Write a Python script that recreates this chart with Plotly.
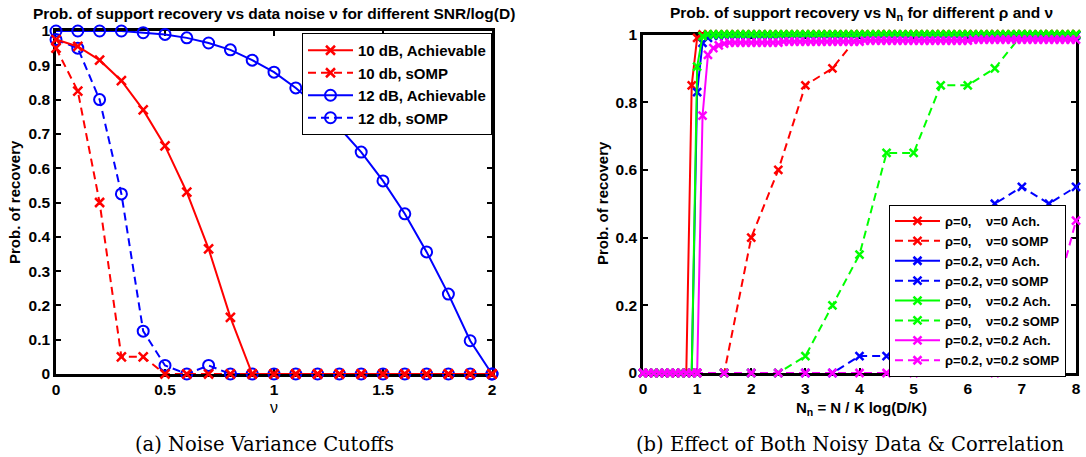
import plotly.graph_objects as go

# ---------------- Data: left panel (a) ----------------
nu = [0.0, 0.1, 0.2, 0.3, 0.4, 0.5, 0.6, 0.7, 0.8, 0.9, 1.0,
      1.1, 1.2, 1.3, 1.4, 1.5, 1.6, 1.7, 1.8, 1.9, 2.0]
ach_10db = [0.975, 0.955, 0.915, 0.855, 0.77, 0.665, 0.53, 0.365, 0.165, 0.0, 0.0,
            0.0, 0.0, 0.0, 0.0, 0.0, 0.0, 0.0, 0.0, 0.0, 0.0]
somp_10db = [0.95, 0.825, 0.50, 0.05, 0.05, 0.0, 0.0, 0.0, 0.0, 0.0, 0.0,
             0.0, 0.0, 0.0, 0.0, 0.0, 0.0, 0.0, 0.0, 0.0, 0.0]
ach_12db = [1.0, 1.0, 1.0, 1.0, 0.995, 0.99, 0.98, 0.965, 0.945, 0.915, 0.88,
            0.834, 0.78, 0.718, 0.647, 0.563, 0.467, 0.356, 0.233, 0.097, 0.0]
somp_12db = [0.975, 0.95, 0.80, 0.525, 0.125, 0.025, 0.0, 0.025, 0.0, 0.0, 0.0,
             0.0, 0.0, 0.0, 0.0, 0.0, 0.0, 0.0, 0.0, 0.0, 0.0]
left_names = ["10 dB, Achievable", "10 db, sOMP", "12 dB, Achievable", "12 db, sOMP"]
left_xticks = [0, 0.5, 1, 1.5, 2]
left_xticktext = ["0", "0.5", "1", "1.5", "2"]
left_yticks = [0, 0.1, 0.2, 0.3, 0.4, 0.5, 0.6, 0.7, 0.8, 0.9, 1.0]
left_yticktext = ["0", "0.1", "0.2", "0.3", "0.4", "0.5", "0.6", "0.7", "0.8", "0.9", "1"]

# ---------------- Data: right panel (b) ----------------
nn_ach = [0.0, 0.1, 0.2, 0.3, 0.4, 0.5, 0.6, 0.7, 0.8, 0.9,
          1.0, 1.1, 1.2, 1.3, 1.4, 1.5, 1.6, 1.7, 1.8, 1.9,
          2.0, 2.1, 2.2, 2.3, 2.4, 2.5, 2.6, 2.7, 2.8, 2.9,
          3.0, 3.1, 3.2, 3.3, 3.4, 3.5, 3.6, 3.7, 3.8, 3.9,
          4.0, 4.1, 4.2, 4.3, 4.4, 4.5, 4.6, 4.7, 4.8, 4.9,
          5.0, 5.1, 5.2, 5.3, 5.4, 5.5, 5.6, 5.7, 5.8, 5.9,
          6.0, 6.1, 6.2, 6.3, 6.4, 6.5, 6.6, 6.7, 6.8, 6.9,
          7.0, 7.1, 7.2, 7.3, 7.4, 7.5, 7.6, 7.7, 7.8, 7.9,
          8.0]
ach_r0_n0 = [0, 0, 0, 0, 0, 0, 0, 0, 0, 0.85,
             0.99, 1, 1, 1, 1, 1, 1, 1, 1, 1,
             1, 1, 1, 1, 1, 1, 1, 1, 1, 1,
             1, 1, 1, 1, 1, 1, 1, 1, 1, 1,
             1, 1, 1, 1, 1, 1, 1, 1, 1, 1,
             1, 1, 1, 1, 1, 1, 1, 1, 1, 1,
             1, 1, 1, 1, 1, 1, 1, 1, 1, 1,
             1, 1, 1, 1, 1, 1, 1, 1, 1, 1,
             1]
ach_r2_n0 = [0, 0, 0, 0, 0, 0, 0, 0, 0, 0,
             0.83, 0.975, 0.99, 0.997, 0.997, 0.997, 0.997, 0.997, 0.997, 0.997,
             0.997, 0.997, 0.997, 0.997, 0.997, 0.997, 0.997, 0.997, 0.997, 0.997,
             0.997, 0.997, 0.997, 0.997, 0.997, 0.997, 0.997, 0.997, 0.997, 0.997,
             0.997, 0.997, 0.997, 0.997, 0.997, 0.997, 0.997, 0.997, 0.997, 0.997,
             0.997, 0.997, 0.997, 0.997, 0.997, 0.997, 0.997, 0.997, 0.997, 0.997,
             0.997, 0.997, 0.997, 0.997, 0.997, 0.997, 0.997, 0.997, 0.997, 0.997,
             0.997, 0.997, 0.997, 0.997, 0.997, 0.997, 0.997, 0.997, 0.997, 0.997,
             0.997]
ach_r0_n2 = [0, 0, 0, 0, 0, 0, 0, 0, 0, 0,
             0.905, 0.995, 1, 1, 1, 1, 1, 1, 1, 1,
             1, 1, 1, 1, 1, 1, 1, 1, 1, 1,
             1, 1, 1, 1, 1, 1, 1, 1, 1, 1,
             1, 1, 1, 1, 1, 1, 1, 1, 1, 1,
             1, 1, 1, 1, 1, 1, 1, 1, 1, 1,
             1, 1, 1, 1, 1, 1, 1, 1, 1, 1,
             1, 1, 1, 1, 1, 1, 1, 1, 1, 1,
             1]
ach_r2_n2 = [0, 0, 0, 0, 0, 0, 0, 0, 0, 0,
             0, 0.76, 0.94, 0.96, 0.968, 0.973, 0.976, 0.976, 0.976, 0.976,
             0.976, 0.976, 0.976, 0.976, 0.976, 0.976, 0.979, 0.979, 0.979, 0.979,
             0.979, 0.979, 0.979, 0.979, 0.979, 0.979, 0.979, 0.979, 0.979, 0.979,
             0.979, 0.982, 0.982, 0.982, 0.982, 0.982, 0.982, 0.982, 0.982, 0.982,
             0.982, 0.982, 0.982, 0.982, 0.982, 0.982, 0.982, 0.982, 0.982, 0.982,
             0.982, 0.985, 0.985, 0.985, 0.985, 0.985, 0.985, 0.985, 0.985, 0.985,
             0.985, 0.985, 0.985, 0.985, 0.985, 0.985, 0.985, 0.985, 0.985, 0.985,
             0.985]
nn_somp = [0, 0.5, 1, 1.5, 2, 2.5, 3, 3.5, 4, 4.5, 5, 5.5, 6, 6.5, 7, 7.5, 8]
somp_r0_n0 = [0, 0, 0, 0, 0.40, 0.60, 0.85, 0.90, 1.0, 1.0, 1.0, 1.0, 1.0, 1.0, 1.0, 1.0, 1.0]
somp_r2_n0 = [0, 0, 0, 0, 0, 0, 0, 0, 0.05, 0.05, 0.10, 0.25, 0.40, 0.50, 0.55, 0.50, 0.55]
somp_r0_n2 = [0, 0, 0, 0, 0, 0, 0.05, 0.20, 0.35, 0.65, 0.65, 0.85, 0.85, 0.90, 1.0, 1.0, 1.0]
somp_r2_n2 = [0, 0, 0, 0, 0, 0, 0, 0, 0, 0, 0, 0.10, 0.20, 0.0, 0.10, 0.15, 0.45]
NB = "\u00a0"
right_names = [
    "ρ=0," + NB * 4 + "ν=0 Ach.",
    "ρ=0," + NB * 4 + "ν=0 sOMP",
    "ρ=0.2, ν=0 Ach.",
    "ρ=0.2, ν=0 sOMP",
    "ρ=0," + NB * 4 + "ν=0.2 Ach.",
    "ρ=0," + NB * 4 + "ν=0.2 sOMP",
    "ρ=0.2, ν=0.2 Ach.",
    "ρ=0.2, ν=0.2 sOMP",
]
right_xticks = [0, 1, 2, 3, 4, 5, 6, 7, 8]
right_xticktext = ["0", "1", "2", "3", "4", "5", "6", "7", "8"]
right_yticks = [0, 0.2, 0.4, 0.6, 0.8, 1.0]
right_yticktext = ["0", "0.2", "0.4", "0.6", "0.8", "1"]

RED, BLUE, GREEN, MAG = "#ff0000", "#0000ff", "#00ff00", "#ff00ff"
FONT = "Liberation Sans, Arial, sans-serif"
DASH = "8px,5px"

fig = go.Figure()


def xmark(c, size):
    return dict(symbol="x-thin", size=size, color=c, line=dict(color=c, width=2.5))


def omark(c):
    return dict(symbol="circle-open", size=11, color=c, line=dict(color=c, width=2))


# left panel (blue drawn first, red on top; legend order via legendrank)
fig.add_trace(go.Scatter(x=nu, y=ach_12db, name=left_names[2], mode="lines+markers",
                         line=dict(color=BLUE, width=2), marker=omark(BLUE),
                         legend="legend", legendrank=3, cliponaxis=False))
fig.add_trace(go.Scatter(x=nu, y=somp_12db, name=left_names[3], mode="lines+markers",
                         line=dict(color=BLUE, width=2, dash=DASH), marker=omark(BLUE),
                         legend="legend", legendrank=4, cliponaxis=False))
fig.add_trace(go.Scatter(x=nu, y=ach_10db, name=left_names[0], mode="lines+markers",
                         line=dict(color=RED, width=2), marker=xmark(RED, 9),
                         legend="legend", legendrank=1, cliponaxis=False))
fig.add_trace(go.Scatter(x=nu, y=somp_10db, name=left_names[1], mode="lines+markers",
                         line=dict(color=RED, width=2, dash=DASH), marker=xmark(RED, 9),
                         legend="legend", legendrank=2, cliponaxis=False))

# right panel
right_series = [
    (nn_ach, ach_r0_n0, RED, None), (nn_somp, somp_r0_n0, RED, DASH),
    (nn_ach, ach_r2_n0, BLUE, None), (nn_somp, somp_r2_n0, BLUE, DASH),
    (nn_ach, ach_r0_n2, GREEN, None), (nn_somp, somp_r0_n2, GREEN, DASH),
    (nn_ach, ach_r2_n2, MAG, None), (nn_somp, somp_r2_n2, MAG, DASH),
]
for i, (xs, ys, c, d) in enumerate(right_series):
    ln = dict(color=c, width=2)
    if d:
        ln["dash"] = d
    fig.add_trace(go.Scatter(x=xs, y=ys, name=right_names[i], mode="lines+markers",
                             line=ln, marker=xmark(c, 8), xaxis="x2", yaxis="y2",
                             legend="legend2", legendrank=10 + i, cliponaxis=False))

W, H = 1086, 457


def px(x):
    return x / W


def py(y):
    return (H - y) / H


tickfont = dict(family=FONT, size=15.5, color="black", weight="bold")
axis_common = dict(showline=True, linewidth=2.5, linecolor="black", mirror="allticks",
                   ticks="inside", ticklen=5, tickwidth=2, tickcolor="black",
                   showgrid=False, zeroline=False, tickfont=tickfont, layer="below traces",
                   automargin=False)

fig.update_layout(
    width=W, height=H, margin=dict(l=0, r=0, t=0, b=0, autoexpand=False),
    paper_bgcolor="white", plot_bgcolor="white",
    font=dict(family=FONT, color="black"),
    xaxis=dict(domain=[px(56), px(492)], range=[0, 2], tickvals=left_xticks,
               ticktext=left_xticktext, anchor="y", **axis_common),
    yaxis=dict(domain=[py(374), py(31)], range=[0, 1], tickvals=left_yticks,
               ticktext=left_yticktext, anchor="x", **axis_common),
    xaxis2=dict(domain=[px(643), px(1076)], range=[0, 8], tickvals=right_xticks,
                ticktext=right_xticktext, anchor="y2", **axis_common),
    yaxis2=dict(domain=[py(373), py(34.5)], range=[0, 1], tickvals=right_yticks,
                ticktext=right_yticktext, anchor="x2", **axis_common),
    legend=dict(x=px(492), xanchor="right", y=py(33), yanchor="top",
                bordercolor="black", borderwidth=1, bgcolor="white",
                font=dict(family=FONT, size=15, color="black", weight="bold"),
                tracegroupgap=0, itemwidth=45),
    legend2=dict(x=px(889), xanchor="left", y=py(205), yanchor="top",
                 bordercolor="black", borderwidth=1, bgcolor="white",
                 font=dict(family=FONT, size=13, color="black", weight="bold"),
                 tracegroupgap=0, itemwidth=45),
    showlegend=True,
)

bold_t = dict(family=FONT, size=15.5, color="black", weight="bold")
bold_l = dict(family=FONT, size=15, color="black", weight="bold")
serif = dict(family="DejaVu Serif, Liberation Serif, serif", size=19.5, color="black")
annos = [
    dict(text="Prob. of support recovery vs data noise ν for different SNR/log(D)",
         x=px(274), y=py(13), font=bold_t),
    dict(text="Prob. of support recovery vs N<sub>n</sub> for different ρ and ν",
         x=px(861), y=py(13), font=bold_t),
    dict(text="Prob. of recovery", x=px(14), y=py(202), textangle=-90, font=bold_l),
    dict(text="Prob. of recovery", x=px(603), y=py(203), textangle=-90, font=bold_l),
    dict(text="ν", x=px(274), y=py(407), font=dict(family=FONT, size=16, color="black")),
    dict(text="N<sub>n</sub> = N / K log(D/K)", x=px(861), y=py(408), font=bold_l),
    dict(text="(a) Noise Variance Cutoffs", x=px(264), y=py(444), font=serif),
    dict(text="(b) Effect of Both Noisy Data &amp; Correlation", x=px(850), y=py(444), font=serif),
]
for a in annos:
    a.update(xref="paper", yref="paper", showarrow=False, xanchor="center", yanchor="middle")
    fig.add_annotation(**a)

fig.write_html("out.html", config={"displayModeBar": False},
               post_script="document.body.style.margin='0';document.body.style.overflow='hidden';")
